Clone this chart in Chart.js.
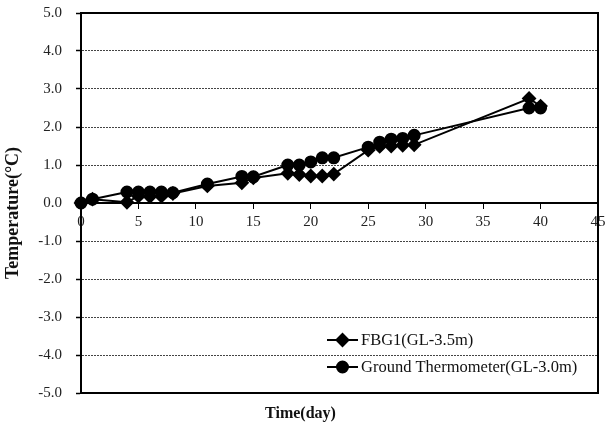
<!DOCTYPE html>
<html>
<head>
<meta charset="utf-8">
<script src="https://cdn.jsdelivr.net/npm/chart.js@4/dist/chart.umd.min.js"></script>
<style>
  html, body { margin: 0; padding: 0; background: #fff; }
  #wrap { width: 606px; height: 428px; position: relative; }
</style>
</head>
<body>
<div id="wrap"><canvas id="c" width="606" height="428"></canvas></div>
<script>
// ---- data ----
const days   = [0, 1, 4, 5, 6, 7, 8, 11, 14, 15, 18, 19, 20, 21, 22, 25, 26, 27, 28, 29, 39, 40];
const fbg1   = [0, 0.10, 0.02, 0.18, 0.17, 0.18, 0.25, 0.45, 0.53, 0.66, 0.78, 0.75, 0.71, 0.71, 0.76, 1.39, 1.49, 1.50, 1.52, 1.53, 2.75, 2.55];
const ground = [0, 0.10, 0.29, 0.29, 0.29, 0.29, 0.27, 0.50, 0.70, 0.69, 1.00, 1.00, 1.08, 1.19, 1.19, 1.47, 1.60, 1.68, 1.70, 1.78, 2.50, 2.50];
const seriesNames = ['FBG1(GL-3.5m)', 'Ground Thermometer(GL-3.0m)'];
const xTitle = 'Time(day)';
const yTitle = 'Temperature(\u00B0C)';
const xRange = [0, 45, 5];
const yRange = [-5, 5, 1];

const SERIF = '"Liberation Serif", "Times New Roman", serif';

const toXY = (xs, ys) => xs.map((x, i) => ({ x: x, y: ys[i] }));

const frame = {
  id: 'frame',
  beforeDatasetsDraw(chart) {
    const { ctx, chartArea: a } = chart;
    ctx.save();
    ctx.strokeStyle = '#000';
    ctx.lineWidth = 2;
    ctx.strokeRect(a.left, a.top, a.right - a.left, a.bottom - a.top);
    ctx.restore();
  }
};

const yAxisTitle = {
  id: 'yAxisTitle',
  afterDraw(chart) {
    const { ctx, chartArea: a } = chart;
    ctx.save();
    ctx.translate(13, (a.top + a.bottom) / 2 + 10);
    ctx.rotate(-Math.PI / 2);
    ctx.fillStyle = '#111';
    ctx.font = 'bold 18px ' + SERIF;
    ctx.textAlign = 'center';
    ctx.textBaseline = 'middle';
    ctx.fillText(yTitle, 0, 0);
    ctx.restore();
  }
};

const innerLegend = {
  id: 'innerLegend',
  afterDraw(chart) {
    const { ctx, chartArea: a } = chart;
    const x0 = a.left + 246, lineLen = 31, textX = x0 + lineLen + 3;
    const rows = [a.bottom - 53, a.bottom - 26];
    ctx.save();
    chart.data.datasets.forEach((ds, i) => {
      const y = rows[i];
      ctx.strokeStyle = '#000';
      ctx.lineWidth = 2;
      ctx.beginPath();
      ctx.moveTo(x0, y);
      ctx.lineTo(x0 + lineLen, y);
      ctx.stroke();
      ctx.fillStyle = '#000';
      Chart.helpers.drawPoint(ctx, { pointStyle: ds.pointStyle, radius: ds.pointRadius, borderWidth: 1 }, x0 + lineLen / 2, y);
      ctx.fill();
      ctx.fillStyle = '#111';
      ctx.font = '16.5px ' + SERIF;
      ctx.textAlign = 'left';
      ctx.textBaseline = 'middle';
      ctx.fillText(ds.label, textX, y + 1);
    });
    ctx.restore();
  }
};

new Chart(document.getElementById('c'), {
  type: 'line',
  data: {
    datasets: [
      {
        label: seriesNames[0],
        data: toXY(days, fbg1),
        borderColor: '#000', backgroundColor: '#000',
        borderWidth: 2, pointStyle: 'rectRot', pointRadius: 6,
        pointBorderColor: '#000', pointBackgroundColor: '#000',
        tension: 0, clip: false, order: 1
      },
      {
        label: seriesNames[1],
        data: toXY(days, ground),
        borderColor: '#000', backgroundColor: '#000',
        borderWidth: 2, pointStyle: 'circle', pointRadius: 5.5,
        pointBorderColor: '#000', pointBackgroundColor: '#000',
        tension: 0, clip: false, order: 0
      }
    ]
  },
  options: {
    responsive: false,
    animation: false,
    devicePixelRatio: 1,
    layout: { padding: { top: 13, right: 5, left: 0, bottom: 0 } },
    plugins: {
      legend: { display: false },
      tooltip: { enabled: false },
      title: {
        display: true, position: 'bottom', text: xTitle, color: '#111',
        font: { family: SERIF, size: 16, weight: 'bold' },
        padding: { top: 11.4, bottom: 4.4 }
      }
    },
    scales: {
      x: {
        type: 'linear',
        position: { y: 0 },
        min: xRange[0], max: xRange[1],
        ticks: { stepSize: xRange[2], color: '#222', font: { family: SERIF, size: 15 }, padding: 5, maxRotation: 0, autoSkip: false },
        grid: { display: true, drawOnChartArea: false, drawTicks: true, tickLength: 5, tickColor: '#000', tickWidth: 1 },
        border: { display: true, color: '#000', width: 2 },
        afterFit(s) { s.paddingLeft = 0; s.paddingRight = 0; s.paddingTop = 0; s.paddingBottom = 0; }
      },
      y: {
        type: 'linear',
        position: 'left',
        min: yRange[0], max: yRange[1],
        ticks: { stepSize: yRange[2], color: '#222', font: { family: SERIF, size: 15 }, padding: 14,
                 callback: v => Number(v).toFixed(1) },
        grid: { color: '#444', lineWidth: 1, drawTicks: true, tickLength: 5, tickColor: '#000', tickWidth: 1.5, tickBorderDash: [] },
        border: { display: true, color: '#000', width: 2, dash: [2, 1] },
        title: { display: false },
        afterFit(s) { s.width = 81; s.paddingTop = 0; s.paddingBottom = 0; }
      }
    }
  },
  plugins: [frame, yAxisTitle, innerLegend]
});
</script>
</body>
</html>
